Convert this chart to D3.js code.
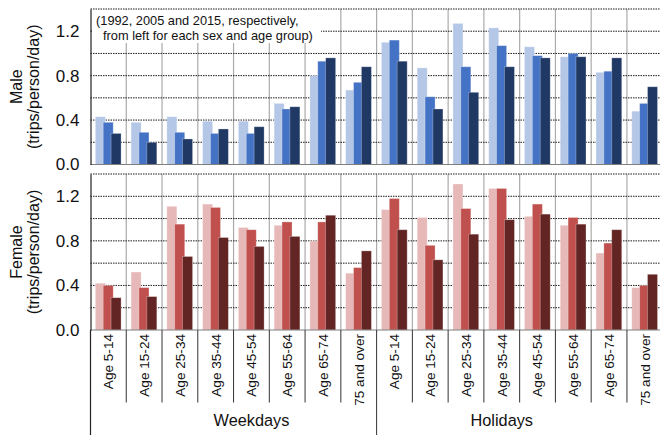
<!DOCTYPE html>
<html>
<head>
<meta charset="utf-8">
<script src="https://cdn.jsdelivr.net/npm/d3@7"></script>
<style>
  html, body { margin: 0; padding: 0; background: #fff; }
  svg { display: block; font-family: "Liberation Sans", Arial, Helvetica, sans-serif; }
</style>
</head>
<body>
<svg id="chart" width="660" height="435"></svg>
<script>
// Trip rates by sex, day type and age group (trips/person/day)
const ageGroups = ["Age 5-14", "Age 15-24", "Age 25-34", "Age 35-44", "Age 45-54", "Age 55-64", "Age 65-74", "75 and over"];
const dayTypes = ["Weekdays", "Holidays"];
const years = ["1992", "2005", "2015"];

// 16 values each: 8 age groups on weekdays, then 8 on holidays
const male1992 = [0.43, 0.38, 0.43, 0.39, 0.39, 0.55, 0.80, 0.67, 1.10, 0.87, 1.27, 1.23, 1.06, 0.97, 0.83, 0.48];
const male2005 = [0.38, 0.29, 0.29, 0.28, 0.28, 0.50, 0.93, 0.74, 1.12, 0.61, 0.88, 1.07, 0.98, 1.00, 0.84, 0.55];
const male2015 = [0.28, 0.20, 0.23, 0.32, 0.34, 0.52, 0.96, 0.88, 0.93, 0.50, 0.65, 0.88, 0.96, 0.97, 0.96, 0.70];
const female1992 = [0.42, 0.52, 1.11, 1.13, 0.92, 0.94, 0.80, 0.51, 1.08, 1.01, 1.31, 1.27, 1.02, 0.94, 0.69, 0.38];
const female2005 = [0.40, 0.38, 0.95, 1.10, 0.90, 0.97, 0.97, 0.56, 1.18, 0.76, 1.09, 1.27, 1.13, 1.01, 0.78, 0.40];
const female2015 = [0.29, 0.30, 0.66, 0.83, 0.75, 0.84, 1.03, 0.71, 0.90, 0.63, 0.86, 0.99, 1.04, 0.95, 0.90, 0.50];

const yTickValues = [0, 0.4, 0.8, 1.2];
const yGridValues = [0.2, 0.4, 0.6, 0.8, 1.0, 1.2, 1.4];

const maleColors = ["#b4c7e7", "#4472c4", "#203864"];
const femaleColors = ["#e6b8b7", "#c0504d", "#632523"];

const svg = d3.select("#chart");

// one band per (day type, age group) pair
const categories = [];
dayTypes.forEach(d => ageGroups.forEach(a => categories.push(d + "|" + a)));

const x = d3.scaleBand().domain(categories).range([90.5, 662.7]).padding(0);
const bw = x.bandwidth();

const panels = [
  { title: "Male", series: [male1992, male2005, male2015], colors: maleColors, range: [164.5, 9] },
  { title: "Female", series: [female1992, female2005, female2015], colors: femaleColors, range: [330, 174] }
];

panels.forEach(p => {
  const y = d3.scaleLinear().domain([0, 1.4]).range(p.range);
  const g = svg.append("g");

  // vertical separators between age groups
  g.selectAll("line.vsep")
    .data(categories.slice(1))
    .join("line")
    .attr("x1", d => x(d)).attr("x2", d => x(d))
    .attr("y1", y(0)).attr("y2", y(1.4))
    .attr("stroke", "#ababab").attr("stroke-width", 1.2);

  // dotted horizontal gridlines
  g.selectAll("line.hgrid")
    .data(yGridValues)
    .join("line")
    .attr("x1", x.range()[0]).attr("x2", x.range()[1])
    .attr("y1", d => y(d)).attr("y2", d => y(d))
    .attr("stroke", "#1a1a1a").attr("stroke-width", 1)
    .attr("stroke-dasharray", "1.5,1");

  p.panelY = y;
  p.g = g;
});

// note box in the male panel
const note = panels[0].g.append("g");
note.append("rect")
  .attr("x", 92).attr("y", 10).attr("width", 229).attr("height", 33)
  .attr("fill", "#fff");
note.append("text").attr("x", 96).attr("y", 25)
  .attr("font-size", 12.8).attr("fill", "#111")
  .text("(1992, 2005 and 2015, respectively,");
note.append("text").attr("x", 103).attr("y", 39.5)
  .attr("font-size", 12.8).attr("fill", "#111")
  .text("from left for each sex and age group)");

// bars
panels.forEach(p => {
  const y = p.panelY;
  p.series.forEach((vals, j) => {
    p.g.selectAll("rect.bar" + j)
      .data(vals)
      .join("rect")
      .attr("x", (v, i) => x(categories[i]) + bw * 0.135 + j * bw * 0.22)
      .attr("width", bw * 0.28)
      .attr("y", v => y(v))
      .attr("height", v => y(0) - y(v))
      .attr("fill", p.colors[j])
      .attr("stroke", "rgba(255,255,255,0.35)")
      .attr("stroke-width", 0.8);
  });

  // baseline
  p.g.append("line")
    .attr("x1", x.range()[0]).attr("x2", x.range()[1])
    .attr("y1", y(0)).attr("y2", y(0))
    .attr("stroke", "#7f7f7f").attr("stroke-width", 1.2);

  // y axis
  const axis = d3.axisLeft(y).tickValues(yTickValues).tickFormat(d3.format(".1f")).tickSize(0).tickPadding(11);
  const ag = p.g.append("g").attr("transform", `translate(${x.range()[0]},0)`).call(axis);
  ag.select(".domain").attr("stroke", "#222").attr("stroke-width", 1.2);
  ag.selectAll("text").attr("font-size", 17).attr("fill", "#111")
    .attr("font-family", "'Liberation Sans', Arial, sans-serif");

  // axis titles
  const cy = (p.range[0] + p.range[1]) / 2;
  const t = p.g.append("text")
    .attr("transform", `translate(0,${cy}) rotate(-90)`)
    .attr("text-anchor", "middle").attr("font-size", 16).attr("fill", "#111");
  t.append("tspan").attr("x", 0).attr("y", 22).text(p.title);
  t.append("tspan").attr("x", 0).attr("y", 39).text("(trips/person/day)");
});

// category axis below the female panel
const yBase = panels[1].range[0];
const labels = svg.append("g");

labels.append("line")
  .attr("x1", x.range()[0]).attr("x2", x.range()[0])
  .attr("y1", yBase).attr("y2", 435)
  .attr("stroke", "#222").attr("stroke-width", 1.2);

labels.selectAll("line.tick")
  .data(categories.slice(1))
  .join("line")
  .attr("x1", d => x(d)).attr("x2", d => x(d))
  .attr("y1", yBase)
  .attr("y2", d => d.endsWith(ageGroups[0]) ? 435 : 402.5)
  .attr("stroke", "#333").attr("stroke-width", 1);

labels.selectAll("text.cat")
  .data(categories)
  .join("text")
  .attr("transform", d => `translate(${x(d) + bw / 2},334) rotate(-90)`)
  .attr("text-anchor", "end").attr("dy", "0.36em")
  .attr("font-size", 13.6).attr("fill", "#111")
  .text(d => d.split("|")[1]);

// day-type group labels
const groupLabelAt = { "Weekdays": ageGroups[4], "Holidays": ageGroups[3] };
labels.selectAll("text.grp")
  .data(dayTypes)
  .join("text")
  .attr("x", d => x(d + "|" + groupLabelAt[d]) + bw / 2)
  .attr("y", 426)
  .attr("text-anchor", "middle").attr("font-size", 16.3).attr("fill", "#111")
  .text(d => d);
</script>
</body>
</html>
